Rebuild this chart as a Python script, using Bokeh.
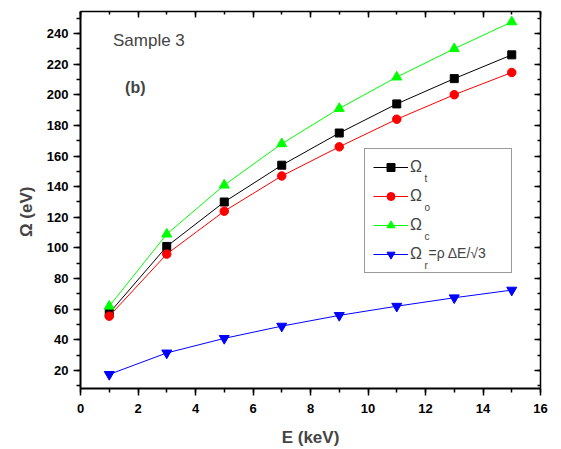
import math
from bokeh.plotting import figure
from bokeh.models import (Range1d, LinearAxis, Legend, LegendItem, Label,
                          SingleIntervalTicker, CustomLabelingPolicy)
from bokeh.embed import file_html
from bokeh.resources import INLINE

energy = [1, 3, 5, 7, 9, 11, 13, 15]
omega_t = [57.5, 101, 130, 154, 175, 194, 210.5, 226]
omega_o = [55.5, 96, 124, 147, 166, 184, 200, 214.5]
omega_c = [62, 109, 141, 168, 191, 211.5, 230, 247.5]
omega_r = [17.5, 31.5, 41, 49, 56, 62, 67.5, 72.5]

x_ticks_major = 2
y_ticks_major = 20

FONT = "Liberation Sans"

p = figure(width=561, height=449, output_backend="svg", toolbar_location=None,
           x_range=Range1d(0, 16), y_range=Range1d(8.3, 254.3),
           min_border_left=80, min_border_right=15, min_border_top=11,
           min_border_bottom=60)
p.grid.visible = False
p.outline_line_color = None
p.background_fill_color = "white"
p.border_fill_color = None

series = [
    (omega_t, "black", "square", 8, "t"),
    (omega_o, "red", "circle", 8.5, "o"),
    (omega_c, "#00FF00", "triangle", 10, "c"),
    (omega_r, "blue", "inverted_triangle", 10, "r"),
]
items = []
for ys, col, mk, sz, sub in series:
    ln = p.line(energy, ys, line_color=col, line_width=1)
    sc = p.scatter(energy, ys, marker=mk, size=sz, fill_color=col,
                   line_color=col)
    items.append(LegendItem(label="Ω", renderers=[ln, sc]))

no_labels = CustomLabelingPolicy(
    code="for (const i of Array.from(indices)) { indices.set(i, false) } return indices")


def style_axis(ax, labels=True, inside=False):
    ax.axis_line_color = "black"
    ax.axis_line_width = 2
    ax.major_tick_line_width = 1.5
    ax.minor_tick_line_width = 1.5
    if inside:
        ax.major_tick_in = 6
        ax.major_tick_out = 0
        ax.minor_tick_in = 3
        ax.minor_tick_out = 0
        ax.axis_line_width = 1.5
    else:
        ax.major_tick_in = 0
        ax.major_tick_out = 7
        ax.minor_tick_in = 0
        ax.minor_tick_out = 4
    if labels:
        ax.major_label_text_font = FONT
        ax.major_label_text_font_style = "bold"
        ax.major_label_text_font_size = "13px"
        ax.major_label_text_color = "black"
    else:
        ax.major_label_policy = no_labels
        ax.major_label_standoff = 0


xt = SingleIntervalTicker(interval=x_ticks_major, num_minor_ticks=2)
yt = SingleIntervalTicker(interval=y_ticks_major, num_minor_ticks=2)

p.xaxis.ticker = xt
p.yaxis.ticker = yt
style_axis(p.xaxis[0])
style_axis(p.yaxis[0])
p.xaxis.major_label_standoff = 8
p.yaxis.major_label_standoff = 5
p.xaxis.axis_label = "E (keV)"
p.xaxis.axis_label_text_font = FONT
p.xaxis.axis_label_text_font_style = "bold"
p.xaxis.axis_label_text_font_size = "17px"
p.xaxis.axis_label_standoff = 12
# trailing no-break spaces shift the visible label below the frame centre,
# as in the original
p.yaxis.axis_label = "Ω (eV)" + "\u00a0" * 5
p.yaxis.axis_label_text_font = FONT
p.yaxis.axis_label_text_font_style = "bold"
p.yaxis.axis_label_text_font_size = "17px"
p.yaxis.axis_label_standoff = 8

top = LinearAxis(ticker=SingleIntervalTicker(interval=x_ticks_major, num_minor_ticks=2))
style_axis(top, labels=False, inside=True)
p.add_layout(top, "above")
right = LinearAxis(ticker=SingleIntervalTicker(interval=y_ticks_major, num_minor_ticks=2))
style_axis(right, labels=False, inside=True)
p.add_layout(right, "right")

legend = Legend(items=items, location=(284, 115), orientation="vertical",
                padding=8, spacing=9, margin=0, glyph_width=35,
                glyph_height=20, label_height=20, label_standoff=2,
                label_width=93,
                label_text_font=FONT, label_text_font_size="16px",
                border_line_color="#333333", border_line_width=1,
                background_fill_alpha=0)
p.add_layout(legend, "center")

p.add_layout(Label(x=1.13, y=235.5, text="Sample 3", text_align="left",
                   text_baseline="middle", text_font=FONT,
                   text_font_size="17px"))
p.add_layout(Label(x=1.55, y=205, text="(b)", text_align="left",
                   text_baseline="middle", text_font=FONT,
                   text_font_style="bold", text_font_size="16px"))

# subscripts and the rest of the last legend label
sub_x = 344
centres = [166.5, 195.5, 224.5, 253.5]
for (ys, col, mk, sz, sub), cy in zip(series, centres):
    p.add_layout(Label(x=sub_x, y=389 - (cy + 12), x_units="screen",
                       y_units="screen", text=sub, text_align="left",
                       text_baseline="alphabetic", text_font=FONT,
                       text_font_size="10px", level="overlay"))
p.add_layout(Label(x=348, y=389 - centres[3], x_units="screen",
                   y_units="screen", text="=ρ ΔE/√3", text_align="left",
                   text_baseline="middle", text_font=FONT,
                   text_font_size="14px", level="overlay"))

open("out.html", "w").write(file_html(p, INLINE))
